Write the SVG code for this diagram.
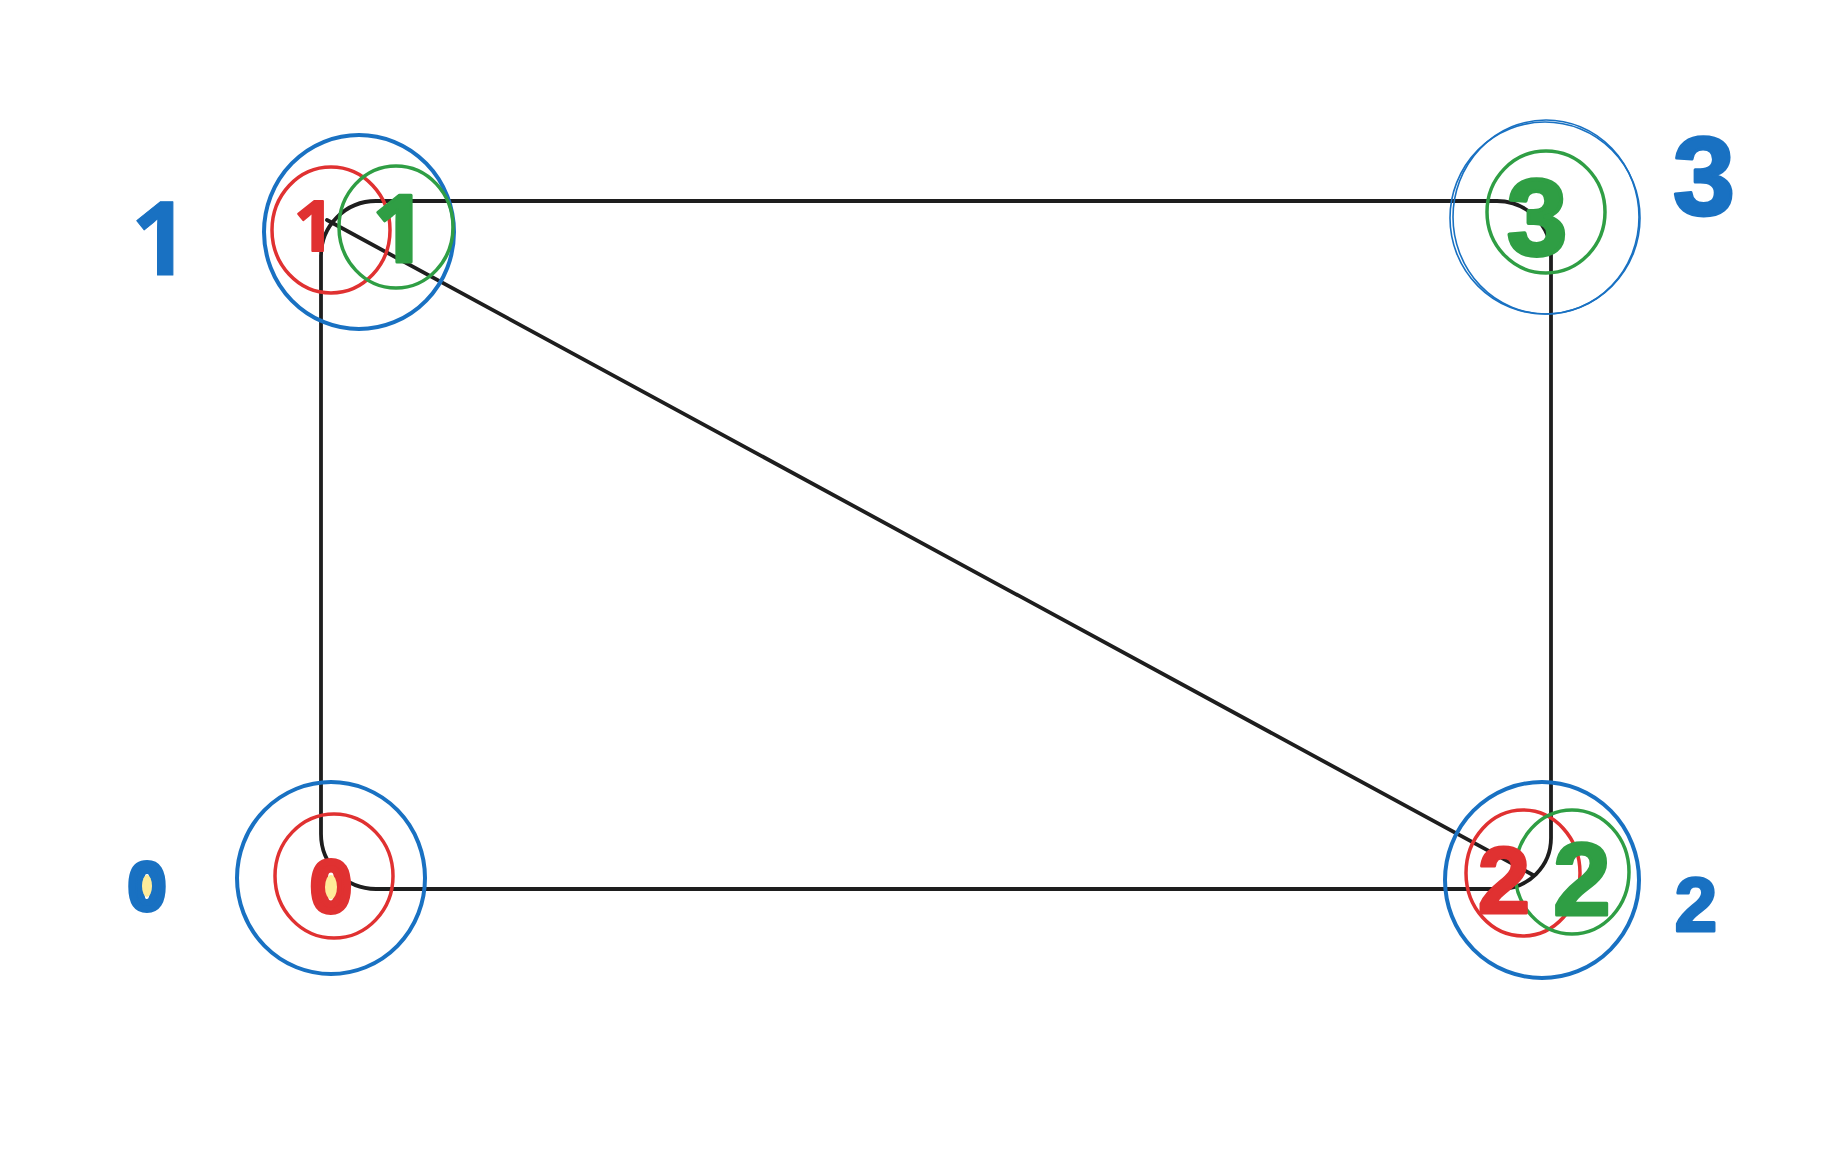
<svg xmlns="http://www.w3.org/2000/svg" width="1832" height="1151" viewBox="0 0 1832 1151">
<style>
.edge{fill:none;stroke:#1e1e1e;stroke-width:3.8;stroke-linecap:round;stroke-linejoin:round}
.cb{fill:none;stroke:#1971c2;stroke-width:4}
.cb2{fill:none;stroke:#1971c2;stroke-width:1.6}
.cr{fill:none;stroke:#e03131;stroke-width:3.5}
.cg{fill:none;stroke:#2f9e44;stroke-width:3.5}
.d{font-family:"Liberation Sans",Arial,sans-serif;font-weight:bold;text-anchor:middle;stroke-linejoin:round;stroke-linecap:round}
.one{font-family:"Open Sans","Liberation Sans",sans-serif}
.tb{fill:#1971c2;stroke:#1971c2}
.tr{fill:#e03131;stroke:#e03131}
.tg{fill:#2f9e44;stroke:#2f9e44}
.hole{fill:#ffec99}
</style>
<rect width="1832" height="1151" fill="#ffffff"/>
<g id="connectors">
<path class="edge" d="M 321,256 L 321,834 A 55 55 0 0 0 376,889 L 1500,889 A 51 51 0 0 0 1551,838 L 1551,255 A 54 54 0 0 0 1497,201 L 376,201 A 55 55 0 0 0 321,256 Z"/>
<path class="edge" d="M 327,220 L 1533,875"/>
</g>
<g id="node-1">
<ellipse class="cb" cx="359" cy="232" rx="95" ry="97"/>
<ellipse class="cr" cx="331" cy="230" rx="59" ry="63"/>
<ellipse class="cg" cx="396" cy="227" rx="57" ry="61"/>
<text class="d one tr" x="314" y="251" font-size="70" stroke-width="2">1</text>
<text class="d one tg" x="399" y="262" font-size="94" stroke-width="3">1</text>
<text class="d one tb" x="160" y="275" font-size="102" stroke-width="1">1</text>
</g>
<g id="node-3">
<ellipse class="cb2" cx="1545" cy="218" rx="95" ry="96"/>
<ellipse class="cb2" cx="1546" cy="217" rx="93" ry="97"/>
<ellipse class="cg" cx="1546" cy="212" rx="59" ry="61"/>
<text class="d tg" x="1537" y="255" font-size="108" stroke-width="4">3</text>
<text class="d tb" x="1704" y="215" font-size="112" stroke-width="3">3</text>
</g>
<g id="node-0">
<ellipse class="cb" cx="331" cy="878" rx="94" ry="96"/>
<ellipse class="cr" cx="334" cy="876" rx="59" ry="62"/>
<text class="d tr" x="331" y="911" font-size="70" stroke-width="7">0</text>
<ellipse class="hole" cx="331" cy="887" rx="6" ry="12"/>
<text class="d tb" x="147" y="909" font-size="64" stroke-width="7">0</text>
<ellipse class="hole" cx="147" cy="886" rx="5" ry="11"/>
</g>
<g id="node-2">
<ellipse class="cb" cx="1542" cy="880" rx="97" ry="98"/>
<ellipse class="cr" cx="1523" cy="873" rx="57" ry="63"/>
<ellipse class="cg" cx="1572" cy="872" rx="57" ry="62"/>
<text class="d tr" x="1504" y="913" font-size="94" stroke-width="3">2</text>
<text class="d tg" x="1582" y="915" font-size="104" stroke-width="3">2</text>
<text class="d tb" x="1696" y="931" font-size="76" stroke-width="3">2</text>
</g>
</svg>
